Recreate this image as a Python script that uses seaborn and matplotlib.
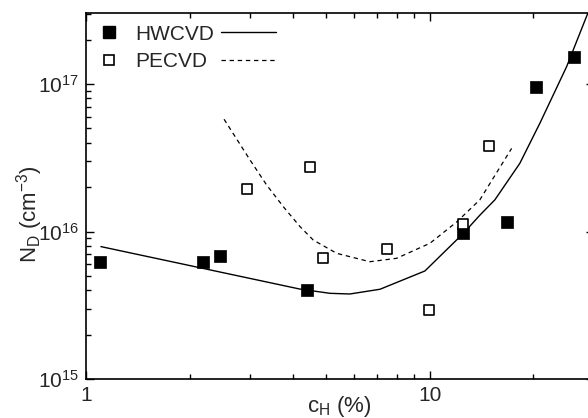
import matplotlib
matplotlib.use("Agg")
import matplotlib.pyplot as plt
import matplotlib.ticker as mticker
from matplotlib.lines import Line2D
import seaborn as sns
import pandas as pd
import numpy as np

# ---- data ----
hw_x = [1.10, 2.19, 2.45, 4.38, 12.5, 16.7, 20.3, 26.3]
hw_y = [6.2e15, 6.2e15, 6.8e15, 4.0e15, 9.7e15, 1.16e16, 9.5e16, 1.52e17]

pe_x = [2.93, 4.48, 4.89, 7.50, 9.95, 12.5, 14.9]
pe_y = [1.93e16, 2.75e16, 6.6e15, 7.6e15, 2.94e15, 1.12e16, 3.82e16]

hw_fit_x = [1.105, 4.19, 5.12, 5.85, 7.16, 9.67, 12.5, 13.97, 15.45, 18.26, 20.88, 24.97, 28.8]
hw_fit_y = [7.9e15, 4.07e15, 3.81e15, 3.77e15, 4.06e15, 5.4e15, 9.7e15, 1.29e16, 1.64e16,
            2.9e16, 5.42e16, 1.31e17, 3.03e17]

pe_fit_x = [2.52, 3.00, 3.35, 3.75, 4.19, 4.58, 5.36, 6.69, 8.0, 10.0, 11.96, 13.97, 17.28]
pe_fit_y = [5.77e16, 3.05e16, 2.07e16, 1.47e16, 1.08e16, 8.75e15, 7.11e15, 6.24e15, 6.58e15,
            8.32e15, 1.16e16, 1.64e16, 3.66e16]

labels = ["HWCVD", "PECVD"]
x_label = "c$_\\mathregular{H}$ (%)"
y_label = "N$_\\mathregular{D}$ (cm$^\\mathregular{-3}$)"

# ---- style ----
sns.set_style("ticks")
plt.rcParams["font.family"] = ["Liberation Sans", "DejaVu Sans"]
plt.rcParams["mathtext.fontset"] = "custom"
plt.rcParams["mathtext.rm"] = "Liberation Sans"
plt.rcParams["mathtext.it"] = "Liberation Sans"
plt.rcParams["mathtext.default"] = "regular"

fig = plt.figure(figsize=(5.88, 4.18), dpi=100)
W, H = 588, 418
x0, x1, ytop, ybot = 86, 594, 13, 379
ax = fig.add_axes([x0 / W, (H - ybot) / H, (x1 - x0) / W, (ybot - ytop) / H])

df_hw = pd.DataFrame({"x": hw_x, "y": hw_y})
df_pe = pd.DataFrame({"x": pe_x, "y": pe_y})
df_hwf = pd.DataFrame({"x": hw_fit_x, "y": hw_fit_y})
df_pef = pd.DataFrame({"x": pe_fit_x, "y": pe_fit_y})

sns.lineplot(data=df_hwf, x="x", y="y", ax=ax, color="black", lw=1.0,
             estimator=None, sort=False)
sns.lineplot(data=df_pef, x="x", y="y", ax=ax, color="black", lw=0.9,
             estimator=None, sort=False, linestyle=(0, (3.5, 3.0)))
sns.scatterplot(data=df_hw, x="x", y="y", ax=ax, marker="s", s=75,
                color="black", edgecolor="black", linewidth=0.5, zorder=5)
sns.scatterplot(data=df_pe, x="x", y="y", ax=ax, marker="s", s=55,
                facecolor="white", edgecolor="black", linewidth=1.2, zorder=5)

ax.set_xscale("log")
ax.set_yscale("log")
ax.set_xlim(1, 30)
ax.set_ylim(1e15, 3.03e17)

ax.xaxis.set_major_locator(mticker.FixedLocator([1, 10]))
ax.xaxis.set_major_formatter(mticker.FuncFormatter(lambda v, p: f"{v:g}"))
ax.xaxis.set_minor_locator(mticker.LogLocator(base=10, subs=np.arange(2, 10)))
ax.xaxis.set_minor_formatter(mticker.NullFormatter())
ax.yaxis.set_major_locator(mticker.LogLocator(base=10, numticks=10))
ax.yaxis.set_minor_locator(mticker.LogLocator(base=10, subs=np.arange(2, 10), numticks=20))
ax.yaxis.set_minor_formatter(mticker.NullFormatter())

ax.tick_params(which="both", direction="in", top=True, right=True, labelsize=15,
               color="black", width=1.0)
ax.tick_params(which="major", length=6, pad=5)
ax.tick_params(which="minor", length=3.5)
for sp in ax.spines.values():
    sp.set_linewidth(1.2)
    sp.set_color("black")

ax.set_xlabel(x_label, fontsize=16)
ax.set_ylabel(y_label, fontsize=16)
ax.xaxis.set_label_coords((339 - x0) / (x1 - x0), -(394 - ybot) / (ybot - ytop))
ax.yaxis.set_label_coords(-(86 - 45) / (x1 - x0), (ybot - 214) / (ybot - ytop))

# legend: marker, label, then line sample
mk_handles = [
    Line2D([], [], marker="s", ls="none", color="black", markersize=8.5),
    Line2D([], [], marker="s", ls="none", markerfacecolor="white",
           markeredgecolor="black", markeredgewidth=1.2, markersize=7.5),
]
leg1 = ax.legend(mk_handles, labels, loc="upper left", bbox_to_anchor=(0.024, 0.968),
                 frameon=False, fontsize=15, handlelength=1.0, handletextpad=0.8,
                 labelspacing=0.42, borderpad=0, borderaxespad=0)
ax.add_artist(leg1)
ln_handles = [
    Line2D([], [], color="black", lw=1.0),
    Line2D([], [], color="black", lw=0.9, ls=(0, (3.5, 3.0))),
]
ax.legend(ln_handles, ["", ""], loc="upper left", bbox_to_anchor=(0.266, 0.968),
          frameon=False, fontsize=15, handlelength=2.64, handletextpad=0,
          labelspacing=0.42, borderpad=0, borderaxespad=0)

fig.savefig("out.png", dpi=100)
